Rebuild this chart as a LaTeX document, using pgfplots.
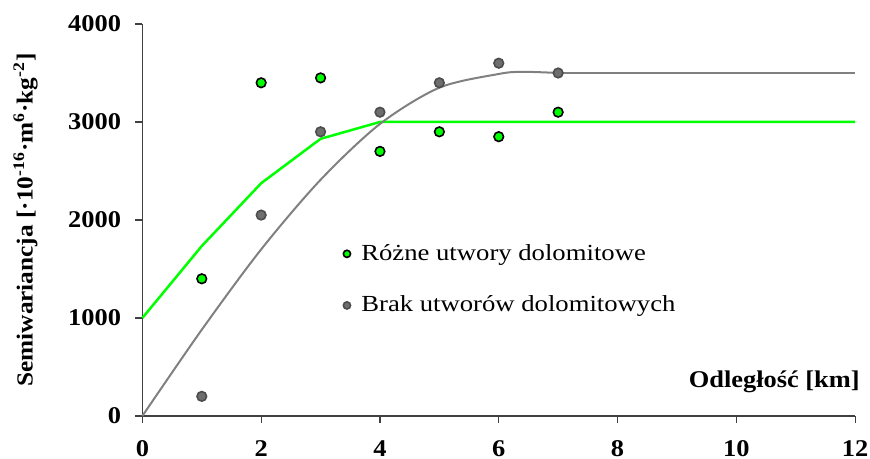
\documentclass[border=0pt,12pt]{standalone}
\usepackage{fontspec}
\setmainfont{Liberation Serif}[FakeStretch=1.1]
\newfontfamily\legfont{Liberation Serif}[FakeStretch=1.16]
\usepackage{pgfplots}
\pgfplotsset{compat=1.18}
\definecolor{vgreen}{HTML}{00FF00}
\definecolor{vgray}{HTML}{808080}
\definecolor{mgray}{HTML}{6E6E6E}
\begin{document}
\begin{tikzpicture}
\begin{axis}[
  scale only axis,
  width=356.4pt, height=196pt,
  at={(0,0)}, anchor=south west,
  xmin=0, xmax=12, ymin=0, ymax=4000,
  xtick={0,2,4,6,8,10,12},
  ytick={0,1000,2000,3000,4000},
  axis x line*=bottom, axis y line*=left,
  axis line style={-, black!75, line width=0.6pt},
  tick style={black!75, line width=0.6pt},
  tick align=outside, major tick length=3.5pt,
  /pgf/number format/assume math mode=true,
  /pgf/number format/1000 sep={},
  tick label style={font=\fontsize{12}{14}\bfseries},
  x tick label style={yshift=-4.5pt},
  y tick label style={xshift=-3pt},
  clip=false,
  xlabel={\fontsize{12}{14}\bfseries Odległość [km]},
  xlabel style={at={(axis description cs:1.007,0.087)}, anchor=east, inner sep=0pt},
  ylabel={\fontsize{11.5}{13}\bfseries Semiwariancja [·10\textsuperscript{-16}·m\textsuperscript{6}·kg\textsuperscript{-2}]},
  ylabel style={at={(axis description cs:-0.1639,0.5)}, anchor=center, inner sep=0pt},
  legend style={draw=none, fill=none, at={(axis description cs:0.273,0.46)}, anchor=north west,
    font=\legfont\fontsize{11.5}{13}\selectfont, row sep=12pt, legend cell align=left},
  legend image code/.code={\draw[#1, mark size=1.8pt] plot coordinates {(0pt,0pt)}; \path[draw=none, fill=none] (0pt,0pt) -- (5.2pt,0pt);},
]
\addplot[vgreen, line width=1.25pt, forget plot] coordinates {
  (0,1000) (1,1734) (2,2375) (3,2828) (4,3000) (12,3000)};
\addplot[vgray, line width=1pt, smooth, tension=0.5, forget plot] coordinates {
  (0,0) (1,880) (2,1700) (3,2410) (4,2980) (5,3350) (6,3490) (6.4,3512) (7,3500)};
\addplot[vgray, line width=1pt, forget plot] coordinates {(7,3500) (12,3500)};
\addplot[only marks, mark=*, mark size=2.4pt, mark options={fill=vgreen, draw=black, line width=0.8pt}] coordinates {
  (1,1400) (2,3400) (3,3450) (4,2700) (5,2900) (6,2850) (7,3100)};
\addlegendentry{Różne utwory dolomitowe}
\addplot[only marks, mark=*, mark size=2.4pt, mark options={fill=mgray, draw=black!70, line width=0.8pt}] coordinates {
  (1,200) (2,2050) (3,2900) (4,3100) (5,3400) (6,3600) (7,3500)};
\addlegendentry{Brak utworów dolomitowych}
\end{axis}
\pgfresetboundingbox
\path[use as bounding box] (-71.2pt,-21.5pt) rectangle (363.85pt,208pt);
\end{tikzpicture}
\end{document}
